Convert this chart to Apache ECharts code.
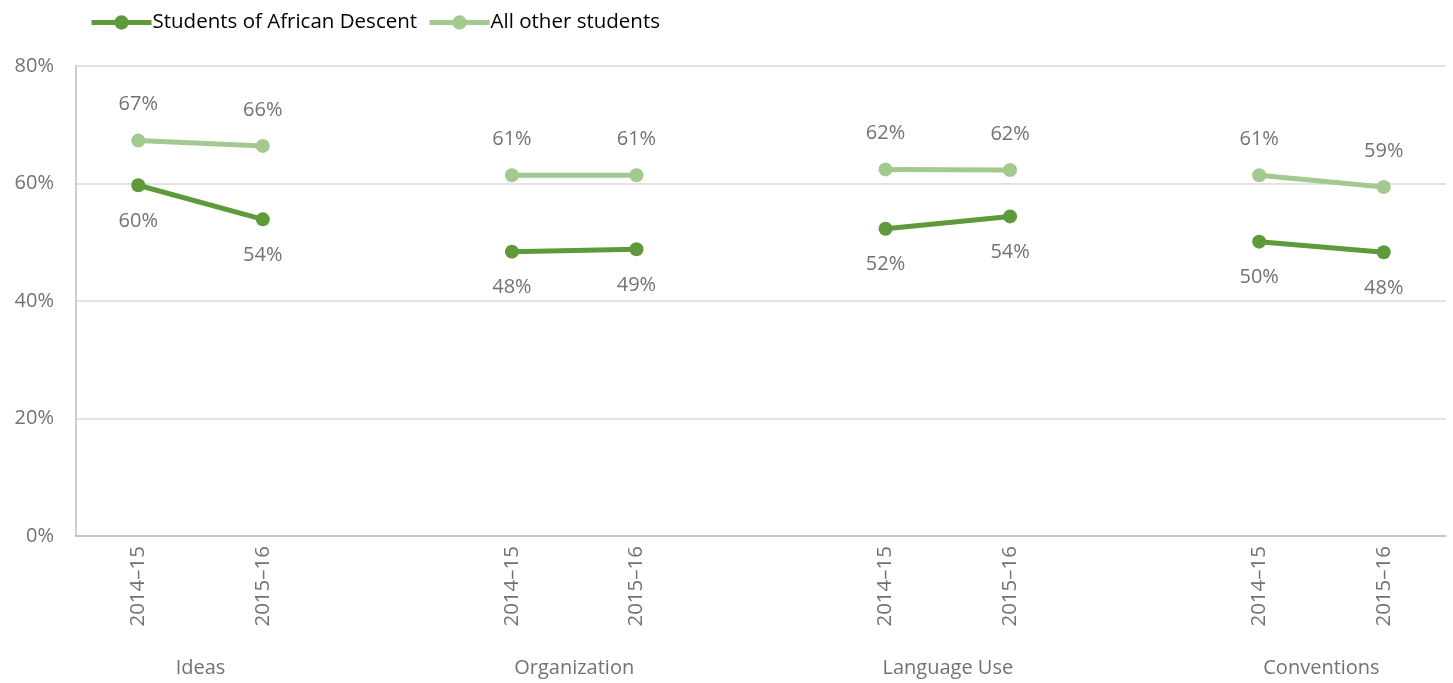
<!DOCTYPE html>
<html><head><meta charset="utf-8">
<script src="https://cdn.jsdelivr.net/npm/echarts@6/dist/echarts.min.js"></script>
<style>html,body{margin:0;padding:0;background:#fff}#c{width:1453px;height:683px}</style>
</head><body><div id="c"></div>
<script>
var categories = ['2014\u201315','2015\u201316','','2014\u201315','2015\u201316','','2014\u201315','2015\u201316','','2014\u201315','2015\u201316'];
var groupLabels = ['Ideas','Organization','Language Use','Conventions'];
var groupPositions = [1,4,7,10];
var african = [59.7,53.9,null,48.4,48.8,null,52.3,54.4,null,50.1,48.3];
var others = [67.3,66.4,null,61.4,61.4,null,62.4,62.3,null,61.4,59.4];
var yTicks = [0,20,40,60,80];

var font = '"Open Sans", "Liberation Sans", sans-serif';
var grey = '#767171';
var chart = echarts.init(document.getElementById('c'));
chart.setOption({
  animation:false,
  textStyle:{fontFamily:font},
  legend:{left:84,top:7,itemWidth:60,itemHeight:18,itemGap:10,
    lineStyle:{width:5},
    textStyle:{fontSize:20.5,color:'#000',fontFamily:font,padding:[0,0,0,-4]},
    data:['Students of African Descent','All other students']},
  grid:{left:76,right:7,top:66,bottom:147},
  xAxis:[{type:'category',data:categories,boundaryGap:true,
    axisLine:{lineStyle:{color:'#bfbfbf',width:1.5}},axisTick:{show:false},
    axisLabel:{rotate:90,interval:0,color:grey,fontSize:20.5,margin:10,fontFamily:font}},
   {type:'value',position:'bottom',min:0,max:11,interval:1,
    axisLine:{show:false},axisTick:{show:false},splitLine:{show:false},
    axisLabel:{color:grey,fontSize:20,margin:122,fontFamily:font,
      formatter:function(v){var i=groupPositions.indexOf(v);return i>=0?groupLabels[i]:'';}}}],
  yAxis:{type:'value',min:yTicks[0],max:yTicks[yTicks.length-1],interval:20,
    axisLine:{show:true,lineStyle:{color:'#bfbfbf',width:1.5}},axisTick:{show:false},
    splitLine:{lineStyle:{color:'#d9d9d9',width:1.5}},
    axisLabel:{color:grey,fontSize:20,margin:22,fontFamily:font,formatter:'{value}%'}},
  series:[
   {name:'Students of African Descent',type:'line',data:african,connectNulls:false,
    symbol:'circle',symbolSize:14,color:'#5e9a3a',lineStyle:{width:5,color:'#5e9a3a'},
    itemStyle:{color:'#5e9a3a'},
    label:{show:true,position:'bottom',distance:19,color:grey,fontSize:20,fontFamily:font,
      formatter:function(p){return Math.round(p.value)+'%';}}},
   {name:'All other students',type:'line',data:others,connectNulls:false,
    symbol:'circle',symbolSize:14,color:'#a3c98f',lineStyle:{width:5,color:'#a3c98f'},
    itemStyle:{color:'#a3c98f'},
    label:{show:true,position:'top',distance:19,color:grey,fontSize:20,fontFamily:font,
      formatter:function(p){return Math.round(p.value)+'%';}}}
  ]
});
</script></body></html>
